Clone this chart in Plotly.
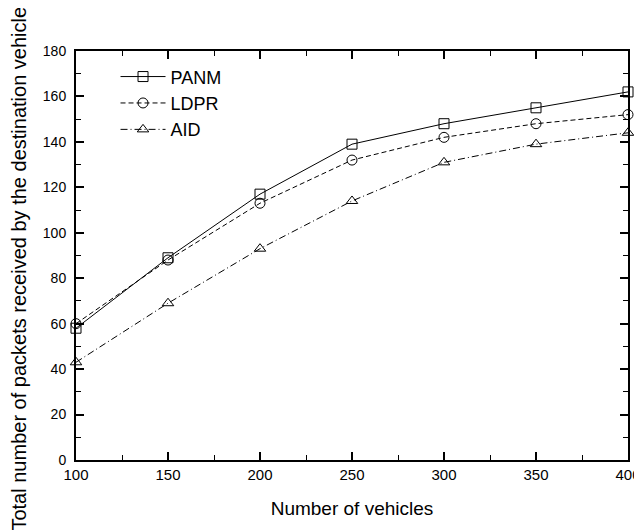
import plotly.graph_objects as go

vehicles = [100, 150, 200, 250, 300, 350, 400]
panm = [58, 89, 117, 139, 148, 155, 162]
ldpr = [60, 88, 113, 132, 142, 148, 152]
aid = [43, 69, 93, 114, 131, 139, 144]

series = [
    ("PANM", panm, "solid", "square-open"),
    ("LDPR", ldpr, "5px,3px", "circle-open"),
    ("AID", aid, "7px,3px,1px,3px", "triangle-up-open"),
]

FONT = "Liberation Sans, Arial, sans-serif"

fig = go.Figure()
for name, vals, dash, sym in series:
    fig.add_trace(go.Scatter(
        x=vehicles, y=vals, name=name, mode="lines+markers",
        line=dict(color="black", width=1, dash=dash),
        marker=dict(symbol=sym, size=10, color="black", line=dict(width=1, color="black")),
        cliponaxis=False,
    ))

axis_common = dict(
    showgrid=False, zeroline=False, showline=True, linecolor="black", linewidth=2,
    mirror="ticks", ticks="inside", ticklen=8, tickwidth=1.5, tickcolor="black",
    automargin=False,
)

fig.update_xaxes(
    range=[100, 400], dtick=50, tick0=100,
    minor=dict(dtick=25, ticks="inside", ticklen=5, tickwidth=1, tickcolor="black"),
    tickfont=dict(family=FONT, size=15, color="black"),
    title=dict(text="Number of vehicles", font=dict(family=FONT, size=19, color="black"), standoff=20),
    **axis_common,
)
fig.update_yaxes(
    range=[0, 180], dtick=20, tick0=0,
    minor=dict(dtick=10, ticks="inside", ticklen=5, tickwidth=1, tickcolor="black"),
    tickfont=dict(family=FONT, size=14, color="black"),
    ticklabelstandoff=5,
    **axis_common,
)

fig.add_annotation(
    text="Total number of packets received by the destination vehicle",
    xref="paper", yref="paper", x=-0.1033, y=0.468,
    xanchor="center", yanchor="middle", textangle=-90, showarrow=False,
    font=dict(family=FONT, size=20, color="black"),
)

fig.update_layout(
    width=642, height=531,
    margin=dict(l=68, r=22, t=43, b=79),
    paper_bgcolor="white", plot_bgcolor="white",
    showlegend=True,
    legend=dict(x=0.0716, y=0.982, xanchor="left", yanchor="top",
                bgcolor="rgba(0,0,0,0)", borderwidth=0,
                font=dict(family=FONT, size=18, color="black"),
                itemwidth=45, tracegroupgap=0),
)

fig.write_html("out.html")
